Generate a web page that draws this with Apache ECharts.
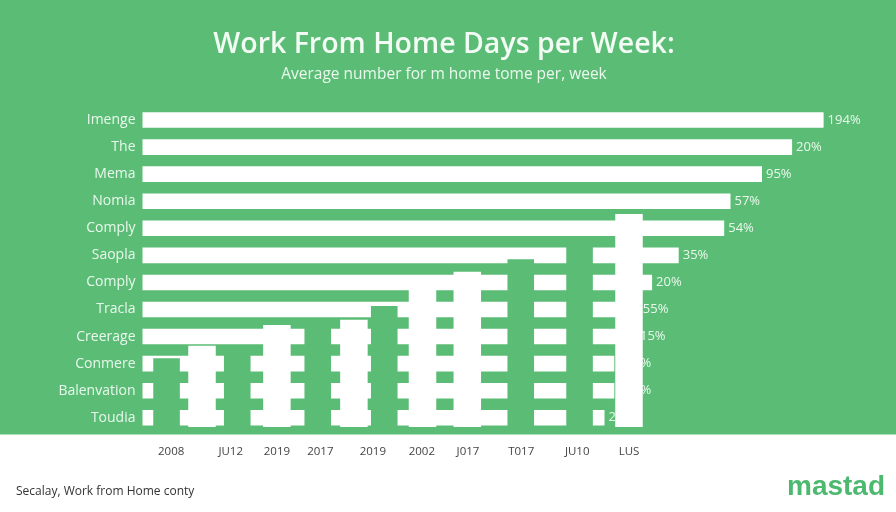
<!DOCTYPE html>
<html>
<head>
<meta charset="utf-8">
<style>
  html, body { margin: 0; padding: 0; background: #fff; }
  #chart { width: 896px; height: 512px; }
</style>
<script src="https://cdn.jsdelivr.net/npm/echarts@6/dist/echarts.min.js"></script>
</head>
<body>
<div id="chart"></div>
<script>
// horizontal rows, top to bottom
const rowNames = ['Imenge', 'The', 'Mema', 'Nomia', 'Comply', 'Saopla', 'Comply', 'Tracla', 'Creerage', 'Conmere', 'Balenvation', 'Toudia'];
const rowValues = [97.3, 92.8, 88.5, 84.0, 83.1, 76.6, 72.8, 70.9, 70.5, 67.4, 67.4, 66.0];
const rowLabels = ['194%', '20%', '95%', '57%', '54%', '35%', '20%', '55%', '15%', '112%', '110%', '25%'];

// vertical columns: position along the axis and height
const whiteColumnX = [8.5, 19.2, 30.2, 40.0, 46.4, 69.5];
const whiteColumnValues = [25.4, 31.9, 33.5, 44.4, 48.5, 66.6];
const greenColumnX = [3.5, 13.6, 25.1, 34.6, 54.1, 62.5];
const greenColumnValues = [21.5, 24.1, 31.9, 37.8, 52.4, 57.5];

// bottom axis
const tickPositions = [4.1, 12.6, 19.2, 25.4, 32.9, 39.9, 46.5, 54.1, 62.1, 69.5];
const tickLabels = ['2008', 'JU12', '2019', '2017', '2019', '2002', 'J017', 'T017', 'JU10', 'LUS'];

const GREEN = '#5bbd75';
const FONT = '"Open Sans", "Noto Sans", sans-serif';

function pairs(xs, ys) {
  return xs.map(function (x, i) { return [x, ys[i]]; });
}

const chart = echarts.init(document.getElementById('chart'), null, { renderer: 'canvas' });

chart.setOption({
  animation: false,
  backgroundColor: '#ffffff',
  textStyle: { fontFamily: FONT },
  // green panel behind the plot
  graphic: [{
    type: 'rect',
    z: -10,
    silent: true,
    shape: { x: 0, y: 0, width: 896, height: 434.5 },
    style: { fill: GREEN }
  }],
  title: [
    {
      text: 'Work From Home Days per Week:',
      left: 439, top: 25, textAlign: 'center',
      textStyle: { color: '#f2fbf4', fontSize: 28.5, fontWeight: 600, fontFamily: FONT }
    },
    {
      text: 'Average number for m home tome per, week',
      left: 439, top: 62, textAlign: 'center',
      textStyle: { color: '#eaf8ee', fontSize: 15.5, fontWeight: 400, fontFamily: FONT }
    },
    {
      text: 'Secalay, Work from Home conty',
      left: 11, top: 481,
      textStyle: { color: '#333333', fontSize: 12, fontWeight: 400, fontFamily: FONT }
    },
    {
      text: 'mastad',
      left: 782, top: 468,
      textStyle: { color: '#4cb96f', fontSize: 28, fontWeight: 700, fontFamily: '"Liberation Sans Narrow", "Liberation Sans", sans-serif' }
    }
  ],
  grid: [
    { left: 142.5, top: 106.5, width: 700, height: 324.8 },
    { left: 142.5, top: 107, width: 700, height: 320 }
  ],
  xAxis: [
    { gridIndex: 0, type: 'value', min: 0, max: 100, show: false },
    {
      gridIndex: 1, type: 'value', min: 0, max: 100,
      splitLine: { show: false },
      axisLine: { show: false },
      axisTick: { show: false },
      axisLabel: {
        customValues: tickPositions,
        margin: 19,
        color: '#444444',
        fontSize: 11.5,
        formatter: function (v) { return tickLabels[tickPositions.indexOf(v)]; }
      }
    }
  ],
  yAxis: [
    {
      gridIndex: 0, type: 'category', inverse: true, data: rowNames,
      axisLine: { show: false },
      axisTick: { show: false },
      axisLabel: { color: '#e9f8ed', fontSize: 14, margin: 7 }
    },
    { gridIndex: 1, type: 'value', min: 0, max: 100, show: false }
  ],
  series: [
    {
      name: 'rows',
      type: 'bar',
      xAxisIndex: 0, yAxisIndex: 0,
      z: 2,
      barWidth: 15.6,
      data: rowValues,
      itemStyle: { color: '#ffffff' },
      label: {
        show: true,
        position: 'right',
        distance: 4,
        color: '#e9f8ed',
        fontSize: 13,
        formatter: function (p) { return rowLabels[p.dataIndex]; }
      }
    },
    {
      name: 'green columns',
      type: 'bar',
      xAxisIndex: 1, yAxisIndex: 1,
      z: 3,
      barWidth: 26.6,
      barGap: '-100%',
      data: pairs(greenColumnX, greenColumnValues),
      itemStyle: { color: GREEN }
    },
    {
      name: 'white columns',
      type: 'bar',
      xAxisIndex: 1, yAxisIndex: 1,
      z: 4,
      barWidth: 27.5,
      barGap: '-100%',
      data: pairs(whiteColumnX, whiteColumnValues),
      itemStyle: { color: '#ffffff' }
    }
  ]
});
</script>
</body>
</html>
